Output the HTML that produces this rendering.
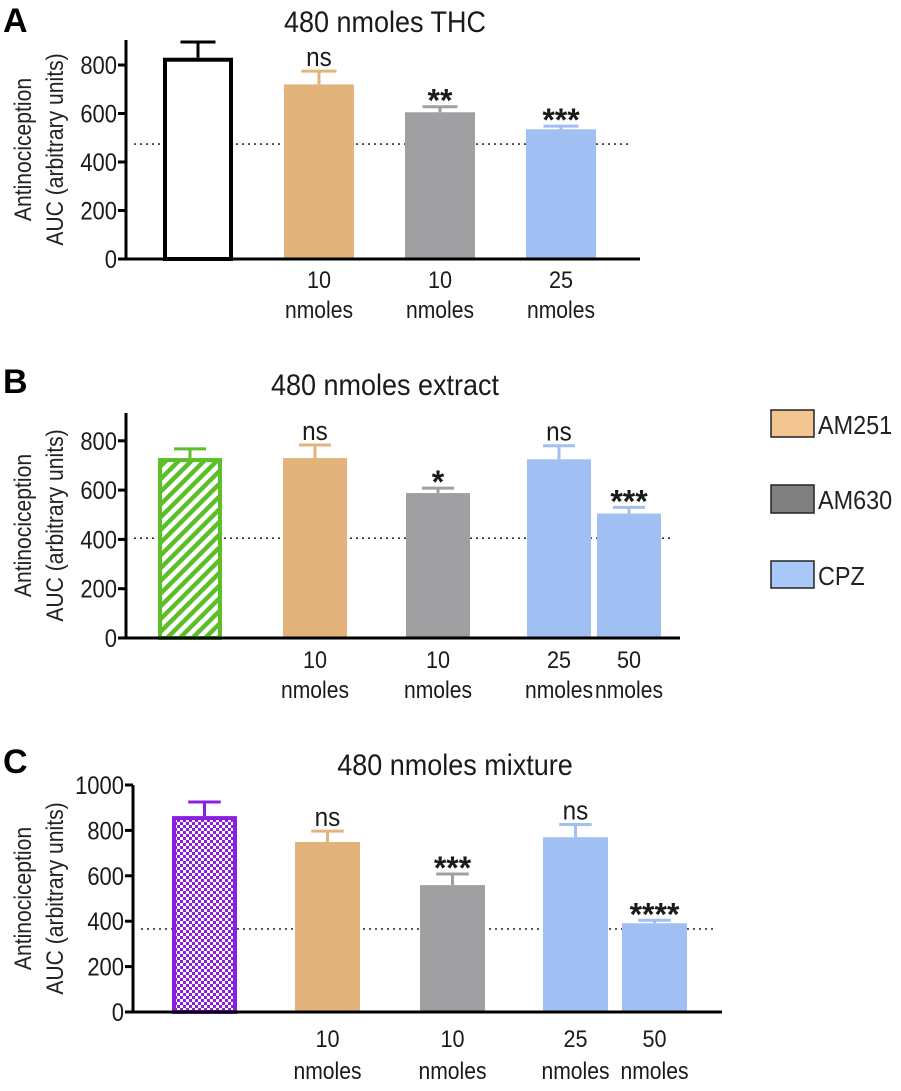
<!DOCTYPE html>
<html><head><meta charset="utf-8"><style>
body{margin:0;background:#fff;}
svg text{font-family:"Liberation Sans",Arial,sans-serif;}
</style></head><body>
<svg id="fig" width="901" height="1086" viewBox="0 0 901 1086" xmlns="http://www.w3.org/2000/svg">
<defs>
<pattern id="hatch" width="9" height="9" patternUnits="userSpaceOnUse" patternTransform="rotate(45)">
<rect width="9" height="9" fill="#fff"/><rect width="4.5" height="9" fill="#5cbf2a"/></pattern>
<pattern id="check" width="6" height="6" patternUnits="userSpaceOnUse">
<rect width="6" height="6" fill="#fff"/><rect width="3" height="3" fill="#8b1fe0"/><rect x="3" y="3" width="3" height="3" fill="#8b1fe0"/></pattern>
</defs>
<g id="legend">
<rect x="771" y="410" width="43" height="27" fill="#f2c591" stroke="#222" stroke-width="1.5"/>
<text transform="translate(818,434) scale(0.9,1)" font-size="26" fill="#222">AM251</text>
<rect x="771" y="485" width="43" height="28" fill="#808080" stroke="#222" stroke-width="1.5"/>
<text transform="translate(818,509) scale(0.9,1)" font-size="26" fill="#222">AM630</text>
<rect x="771" y="561" width="43" height="27" fill="#a8c8f8" stroke="#222" stroke-width="1.5"/>
<text transform="translate(818,585) scale(0.9,1)" font-size="26" fill="#222">CPZ</text>
</g>
</svg>
<script>
// Panel A data
const aValues=[830,720,605,535];
const aErrors=[895,775,628,548];
const aSig=["","ns","**","***"];
const aDose=["","10","10","25"];
const aBaseline=474;
// Panel B data
const bValues=[730,730,588,725,505];
const bErrors=[767,783,608,780,530];
const bSig=["","ns","*","ns","***"];
const bDose=["","10","10","25","50"];
const bBaseline=405;
// Panel C data
const cValues=[863,749,559,770,391];
const cErrors=[925,797,608,826,404];
const cSig=["","ns","***","ns","****"];
const cDose=["","10","10","25","50"];
const cBaseline=366;
const yTicksA=[0,200,400,600,800];
const yTicksC=[0,200,400,600,800,1000];

const svg=document.getElementById('fig');
const NS='http://www.w3.org/2000/svg';
function mk(tag,attrs,parent){const e=document.createElementNS(NS,tag);for(const k in attrs)e.setAttribute(k,attrs[k]);(parent||svg).appendChild(e);return e;}
function txt(g,x,y,size,anchor,str,sx,extra){
  const t=mk('text',Object.assign({transform:`translate(${x},${y}) scale(${sx},1)`,'font-size':size,'text-anchor':anchor,fill:'#1a1a1a'},extra||{}),g);
  t.textContent=str;return t;}

function panel(o){
  const g=mk('g',{});
  
  
  const y=v=>o.y0-v*o.ppu;
  const L=txt(g,3,o.letterY,34,'start',o.id.toUpperCase(),1,{'font-weight':'bold',fill:'#000'});
  
  
  const T=txt(g,o.titleX,o.titleY,30,'middle',o.title,0.9);
  
  
  const yt=mk('text',{transform:`translate(${o.ytX},${(o.y0+o.top)/2}) rotate(-90) scale(0.88,1)`,'font-size':24,'text-anchor':'middle',fill:'#222'},g);
  
  
  const t1=mk('tspan',{x:0,dy:-13},yt);t1.textContent='Antinociception';
  const t2=mk('tspan',{x:0,dy:32},yt);t2.textContent='AUC (arbitrary units)';
  const dl=mk('line',{x1:o.ax+8,x2:o.xEnd-8,y1:y(o.baseline),y2:y(o.baseline),stroke:'#333','stroke-width':1.6,'stroke-dasharray':'2 4'},g);
  
  
  o.values.forEach((v,i)=>{
    const x=o.xs[i],w=o.w,c=o.colors[i];
    const cx=x+w/2;
    const eb=mk('g',{},g);
    
    
    mk('line',{x1:cx,x2:cx,y1:y(v),y2:y(o.errors[i]),stroke:c.stroke,'stroke-width':3},eb);
    mk('line',{x1:cx-w*0.25,x2:cx+w*0.25,y1:y(o.errors[i]),y2:y(o.errors[i]),stroke:c.stroke,'stroke-width':3},eb);
    const sw=c.sw||0;
    const r=mk('rect',{x:x+sw/2,y:y(v)+sw/2,width:w-sw,height:o.y0-y(v)-sw/2,fill:c.fill,stroke:sw?c.stroke:'none','stroke-width':sw},g);
    
    
    if(o.sig[i]){
      const isNs=o.sig[i]==='ns';
      const s=txt(g,cx,y(o.errors[i])+(isNs?-5:5),isNs?27:32,'middle',o.sig[i],isNs?0.9:1,{'font-weight':isNs?'normal':'bold'});
      
      }
    if(o.dose[i]){
      const d=txt(g,cx,o.doseY,24,'middle',o.dose[i],0.9);
      
      
      const n=txt(g,cx,o.unitY,24,'middle','nmoles',0.88);
      
      }
  });
  const ya=mk('line',{x1:o.ax,x2:o.ax,y1:o.top,y2:o.y0+1.5,stroke:'#000','stroke-width':3},g);
  
  
  const xa=mk('line',{x1:o.ax-8,x2:o.xEnd,y1:o.y0,y2:o.y0,stroke:'#000','stroke-width':3},g);
  
  
  o.ticks.forEach(t=>{
    mk('line',{x1:o.ax-8,x2:o.ax,y1:y(t),y2:y(t),stroke:'#000','stroke-width':3},g);
    const tl=txt(g,o.ax-9,y(t)+9,25,'end',String(t),0.88);
    
    
  });
}
const TAN={fill:'#e2b47c',stroke:'#e2b47c'},GRY={fill:'#a0a0a3',stroke:'#a0a0a3'},BLU={fill:'#a0bff3',stroke:'#a0bff3'};
panel({id:'a',title:'480 nmoles THC',titleX:385,titleY:32,letterY:32,ax:126,y0:259,ppu:48.5/200,top:40,xEnd:640,ytX:44,
  values:aValues,errors:aErrors,sig:aSig,dose:aDose,baseline:aBaseline,ticks:yTicksA,
  xs:[163,284,405,526],w:70,colors:[{fill:'#fff',stroke:'#000',sw:4},TAN,GRY,BLU],doseY:288,unitY:318});
panel({id:'b',title:'480 nmoles extract',titleX:385,titleY:395,letterY:393,ax:126,y0:638,ppu:49.3/200,top:413,xEnd:680,ytX:44,
  values:bValues,errors:bErrors,sig:bSig,dose:bDose,baseline:bBaseline,ticks:yTicksA,
  xs:[158,283,406,527,597],w:64,colors:[{fill:'url(#hatch)',stroke:'#5cbf2a',sw:4},TAN,GRY,BLU,BLU],doseY:668,unitY:698});
panel({id:'c',title:'480 nmoles mixture',titleX:455,titleY:775,letterY:773,ax:133,y0:1012,ppu:45.4/200,top:785,xEnd:722,ytX:44,
  values:cValues,errors:cErrors,sig:cSig,dose:cDose,baseline:cBaseline,ticks:yTicksC,
  xs:[172,295,420,543,622],w:65,colors:[{fill:'url(#check)',stroke:'#8b1fe0',sw:4},TAN,GRY,BLU,BLU],doseY:1047,unitY:1079});
</script>
</body></html>
